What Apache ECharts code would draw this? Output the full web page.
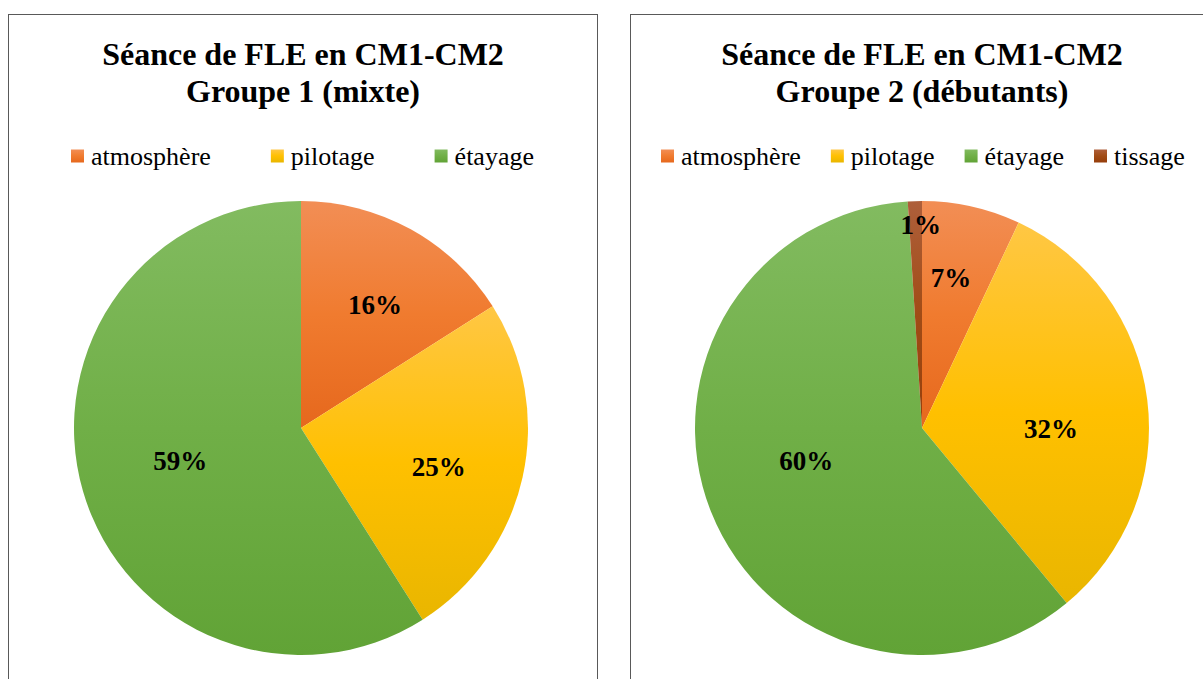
<!DOCTYPE html>
<html>
<head>
<meta charset="utf-8">
<script src="https://cdn.jsdelivr.net/npm/echarts@6/dist/echarts.min.js"></script>
<style>
html, body { margin: 0; padding: 0; background: #fff; overflow: hidden; width: 1203px; height: 679px; }
.panel { position: absolute; top: 14px; height: 720px; border: 1px solid #595959; box-sizing: border-box; }
#p1 { left: 8px; width: 590px; }
#p2 { left: 630px; width: 584px; }
.chart { width: 100%; height: 100%; }
</style>
</head>
<body>
<div class="panel" id="p1"><div class="chart" id="c1"></div></div>
<div class="panel" id="p2"><div class="chart" id="c2"></div></div>
<script>
// données
const categories1 = ['atmosphère', 'pilotage', 'étayage'];
const values1 = [16, 25, 59];
const title1 = 'Séance de FLE en CM1-CM2\nGroupe 1 (mixte)';

const categories2 = ['atmosphère', 'pilotage', 'étayage', 'tissage'];
const values2 = [7, 32, 60, 1];
const title2 = 'Séance de FLE en CM1-CM2\nGroupe 2 (débutants)';

// couleurs (haut, milieu, bas) par catégorie
const colours = {
    'atmosphère': ['#F28E55', '#F07B2F', '#E6681D'],
    'pilotage': ['#FFC744', '#FFC000', '#E9B600'],
    'étayage': ['#82BB60', '#70AF47', '#61A336'],
    'tissage': ['#AE5F3B', '#A14C16', '#963E0B']
};

const serif = '"Liberation Serif", "Times New Roman", serif';

function grad(name) {
    return new echarts.graphic.LinearGradient(0, 0, 0, 1, [
        { offset: 0, color: colours[name][0] },
        { offset: 0.5, color: colours[name][1] },
        { offset: 1, color: colours[name][2] }
    ]);
}

function build(el, categories, values, title, opts) {
    let chart = echarts.init(el, null, { renderer: 'svg' });
    let data = categories.map((c, i) => ({
        name: c,
        value: values[i],
        itemStyle: { color: grad(c) }
    }));
    // couche transparente qui porte les étiquettes
    let labelData = categories.map((c, i) => ({ name: c, value: values[i] }));

    chart.setOption({
        animation: false,
        title: {
            text: title,
            left: 'center',
            top: 15,
            textStyle: {
                fontFamily: serif,
                fontWeight: 'bold',
                fontSize: 32,
                lineHeight: 37,
                color: '#000'
            }
        },
        legend: {
            data: categories,
            left: opts.legendLeft,
            top: 123,
            itemWidth: 13,
            itemHeight: 13,
            itemGap: opts.legendGap,
            icon: 'rect',
            textStyle: {
                fontFamily: serif,
                fontSize: 26,
                color: '#000',
                padding: [0, 0, 0, 2]
            }
        },
        series: [{
            type: 'pie',
            center: opts.center,
            radius: [0, 227],
            startAngle: 90,
            clockwise: true,
            label: { show: false },
            labelLine: { show: false },
            emphasis: { disabled: true },
            itemStyle: { borderWidth: 0 },
            data: data
        }, {
            type: 'pie',
            center: opts.center,
            radius: [33, 227],
            startAngle: 90,
            clockwise: true,
            silent: true,
            legendHoverLink: false,
            itemStyle: { color: 'rgba(0,0,0,0)', borderWidth: 0 },
            label: {
                show: true,
                position: 'inside',
                formatter: '{c}%',
                fontFamily: serif,
                fontWeight: 'bold',
                fontSize: 27,
                color: '#000'
            },
            labelLayout: function (p) {
                let o = opts.labelShift[p.dataIndex];
                return { dx: o[0], dy: o[1] };
            },
            labelLine: { show: false },
            emphasis: { disabled: true },
            data: labelData
        }]
    });
    return chart;
}

build(document.getElementById('c1'), categories1, values1, title1, {
    center: [292, 413],
    legendLeft: 57,
    legendGap: 60,
    labelShift: [[10, -6], [8, 10], [7, -4]]
});

build(document.getElementById('c2'), categories2, values2, title2, {
    center: [291, 413],
    legendLeft: 25,
    legendGap: 30,
    labelShift: [[0, -20], [-3, 18], [8, -16], [3, -70]]
});
</script>
</body>
</html>
